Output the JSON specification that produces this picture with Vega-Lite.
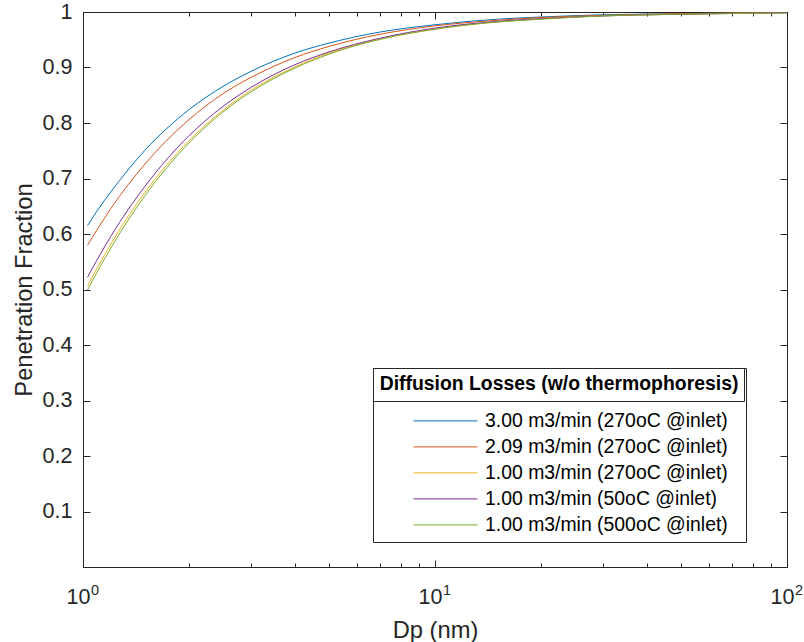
{
  "$schema": "https://vega.github.io/schema/vega-lite/v6.json",
  "width": 704,
  "height": 555,
  "autosize": {"type": "none"},
  "padding": {"left": 83, "top": 12, "right": 17, "bottom": 75},
  "background": "white",
  "config": {
    "font": "Liberation Sans",
    "view": {"stroke": "#262626", "strokeWidth": 1},
    "axis": {
      "domainColor": "#262626",
      "tickColor": "#262626",
      "labelColor": "#262626",
      "titleColor": "#262626",
      "labelFont": "Liberation Sans",
      "titleFont": "Liberation Sans",
      "labelFontSize": 21.5,
      "titleFontSize": 23.7,
      "titleFontWeight": "normal",
      "grid": false,
      "labelOverlap": false,
      "labelFlush": false,
      "labelBound": false
    }
  },
  "data": {
    "values": [
      {"series": "3.00 m3/min (270oC @inlet)", "dp": 1.03, "p": 0.615},
      {"series": "3.00 m3/min (270oC @inlet)", "dp": 1.1, "p": 0.643},
      {"series": "3.00 m3/min (270oC @inlet)", "dp": 1.2, "p": 0.676},
      {"series": "3.00 m3/min (270oC @inlet)", "dp": 1.5, "p": 0.751},
      {"series": "3.00 m3/min (270oC @inlet)", "dp": 2, "p": 0.824},
      {"series": "3.00 m3/min (270oC @inlet)", "dp": 2.5, "p": 0.866},
      {"series": "3.00 m3/min (270oC @inlet)", "dp": 3, "p": 0.893},
      {"series": "3.00 m3/min (270oC @inlet)", "dp": 4, "p": 0.926},
      {"series": "3.00 m3/min (270oC @inlet)", "dp": 5, "p": 0.944},
      {"series": "3.00 m3/min (270oC @inlet)", "dp": 7, "p": 0.964},
      {"series": "3.00 m3/min (270oC @inlet)", "dp": 10, "p": 0.977},
      {"series": "3.00 m3/min (270oC @inlet)", "dp": 15, "p": 0.987},
      {"series": "3.00 m3/min (270oC @inlet)", "dp": 20, "p": 0.991},
      {"series": "3.00 m3/min (270oC @inlet)", "dp": 30, "p": 0.995},
      {"series": "3.00 m3/min (270oC @inlet)", "dp": 50, "p": 0.997},
      {"series": "3.00 m3/min (270oC @inlet)", "dp": 100, "p": 0.999},

      {"series": "2.09 m3/min (270oC @inlet)", "dp": 1.03, "p": 0.580},
      {"series": "2.09 m3/min (270oC @inlet)", "dp": 1.1, "p": 0.609},
      {"series": "2.09 m3/min (270oC @inlet)", "dp": 1.2, "p": 0.646},
      {"series": "2.09 m3/min (270oC @inlet)", "dp": 1.5, "p": 0.726},
      {"series": "2.09 m3/min (270oC @inlet)", "dp": 2, "p": 0.806},
      {"series": "2.09 m3/min (270oC @inlet)", "dp": 2.5, "p": 0.853},
      {"series": "2.09 m3/min (270oC @inlet)", "dp": 3, "p": 0.882},
      {"series": "2.09 m3/min (270oC @inlet)", "dp": 4, "p": 0.918},
      {"series": "2.09 m3/min (270oC @inlet)", "dp": 5, "p": 0.938},
      {"series": "2.09 m3/min (270oC @inlet)", "dp": 7, "p": 0.960},
      {"series": "2.09 m3/min (270oC @inlet)", "dp": 10, "p": 0.975},
      {"series": "2.09 m3/min (270oC @inlet)", "dp": 15, "p": 0.985},
      {"series": "2.09 m3/min (270oC @inlet)", "dp": 20, "p": 0.990},
      {"series": "2.09 m3/min (270oC @inlet)", "dp": 30, "p": 0.994},
      {"series": "2.09 m3/min (270oC @inlet)", "dp": 50, "p": 0.997},
      {"series": "2.09 m3/min (270oC @inlet)", "dp": 100, "p": 0.999},

      {"series": "1.00 m3/min (270oC @inlet)", "dp": 1.03, "p": 0.506},
      {"series": "1.00 m3/min (270oC @inlet)", "dp": 1.1, "p": 0.540},
      {"series": "1.00 m3/min (270oC @inlet)", "dp": 1.2, "p": 0.582},
      {"series": "1.00 m3/min (270oC @inlet)", "dp": 1.5, "p": 0.675},
      {"series": "1.00 m3/min (270oC @inlet)", "dp": 2, "p": 0.768},
      {"series": "1.00 m3/min (270oC @inlet)", "dp": 2.5, "p": 0.823},
      {"series": "1.00 m3/min (270oC @inlet)", "dp": 3, "p": 0.859},
      {"series": "1.00 m3/min (270oC @inlet)", "dp": 4, "p": 0.901},
      {"series": "1.00 m3/min (270oC @inlet)", "dp": 5, "p": 0.926},
      {"series": "1.00 m3/min (270oC @inlet)", "dp": 7, "p": 0.951},
      {"series": "1.00 m3/min (270oC @inlet)", "dp": 10, "p": 0.969},
      {"series": "1.00 m3/min (270oC @inlet)", "dp": 15, "p": 0.982},
      {"series": "1.00 m3/min (270oC @inlet)", "dp": 20, "p": 0.988},
      {"series": "1.00 m3/min (270oC @inlet)", "dp": 30, "p": 0.993},
      {"series": "1.00 m3/min (270oC @inlet)", "dp": 50, "p": 0.996},
      {"series": "1.00 m3/min (270oC @inlet)", "dp": 100, "p": 0.999},

      {"series": "1.00 m3/min (50oC @inlet)", "dp": 1.03, "p": 0.522},
      {"series": "1.00 m3/min (50oC @inlet)", "dp": 1.1, "p": 0.555},
      {"series": "1.00 m3/min (50oC @inlet)", "dp": 1.2, "p": 0.596},
      {"series": "1.00 m3/min (50oC @inlet)", "dp": 1.5, "p": 0.686},
      {"series": "1.00 m3/min (50oC @inlet)", "dp": 2, "p": 0.777},
      {"series": "1.00 m3/min (50oC @inlet)", "dp": 2.5, "p": 0.830},
      {"series": "1.00 m3/min (50oC @inlet)", "dp": 3, "p": 0.864},
      {"series": "1.00 m3/min (50oC @inlet)", "dp": 4, "p": 0.905},
      {"series": "1.00 m3/min (50oC @inlet)", "dp": 5, "p": 0.928},
      {"series": "1.00 m3/min (50oC @inlet)", "dp": 7, "p": 0.953},
      {"series": "1.00 m3/min (50oC @inlet)", "dp": 10, "p": 0.971},
      {"series": "1.00 m3/min (50oC @inlet)", "dp": 15, "p": 0.983},
      {"series": "1.00 m3/min (50oC @inlet)", "dp": 20, "p": 0.988},
      {"series": "1.00 m3/min (50oC @inlet)", "dp": 30, "p": 0.993},
      {"series": "1.00 m3/min (50oC @inlet)", "dp": 50, "p": 0.996},
      {"series": "1.00 m3/min (50oC @inlet)", "dp": 100, "p": 0.999},

      {"series": "1.00 m3/min (500oC @inlet)", "dp": 1.03, "p": 0.499},
      {"series": "1.00 m3/min (500oC @inlet)", "dp": 1.1, "p": 0.533},
      {"series": "1.00 m3/min (500oC @inlet)", "dp": 1.2, "p": 0.575},
      {"series": "1.00 m3/min (500oC @inlet)", "dp": 1.5, "p": 0.669},
      {"series": "1.00 m3/min (500oC @inlet)", "dp": 2, "p": 0.764},
      {"series": "1.00 m3/min (500oC @inlet)", "dp": 2.5, "p": 0.820},
      {"series": "1.00 m3/min (500oC @inlet)", "dp": 3, "p": 0.856},
      {"series": "1.00 m3/min (500oC @inlet)", "dp": 4, "p": 0.899},
      {"series": "1.00 m3/min (500oC @inlet)", "dp": 5, "p": 0.924},
      {"series": "1.00 m3/min (500oC @inlet)", "dp": 7, "p": 0.951},
      {"series": "1.00 m3/min (500oC @inlet)", "dp": 10, "p": 0.969},
      {"series": "1.00 m3/min (500oC @inlet)", "dp": 15, "p": 0.982},
      {"series": "1.00 m3/min (500oC @inlet)", "dp": 20, "p": 0.987},
      {"series": "1.00 m3/min (500oC @inlet)", "dp": 30, "p": 0.993},
      {"series": "1.00 m3/min (500oC @inlet)", "dp": 50, "p": 0.996},
      {"series": "1.00 m3/min (500oC @inlet)", "dp": 100, "p": 0.998}
    ]
  },
  "encoding": {
    "x": {
      "field": "dp",
      "type": "quantitative",
      "scale": {"type": "log", "domain": [1, 100], "nice": false}
    },
    "y": {
      "field": "p",
      "type": "quantitative",
      "scale": {"domain": [0, 1], "nice": false, "zero": false}
    }
  },
  "layer": [
    {
      "mark": {"type": "line", "strokeWidth": 1, "interpolate": "monotone", "clip": true},
      "encoding": {
        "x": {
          "field": "dp",
          "type": "quantitative",
          "title": "Dp (nm)",
          "axis": {
            "orient": "bottom",
            "values": [1, 2, 3, 4, 5, 6, 7, 8, 9, 10, 20, 30, 40, 50, 60, 70, 80, 90, 100],
            "labelExpr": "datum.value == 1 || datum.value == 10 || datum.value == 100 ? '10' : ''",
            "labelOffset": -5,
            "tickSize": {"condition": {"test": "datum.value == 1 || datum.value == 10 || datum.value == 100", "value": -7}, "value": -4},
            "labelPadding": 26,
            "titlePadding": 8
          }
        },
        "y": {
          "field": "p",
          "type": "quantitative",
          "title": "Penetration Fraction",
          "axis": {
            "orient": "left",
            "values": [0.1, 0.2, 0.3, 0.4, 0.5, 0.6, 0.7, 0.8, 0.9, 1],
            "format": ".1~f",
            "tickSize": -7,
            "labelPadding": 18,
            "titlePadding": 6
          }
        },
        "color": {
          "field": "series",
          "type": "nominal",
          "sort": null,
          "scale": {
            "domain": [
              "3.00 m3/min (270oC @inlet)",
              "2.09 m3/min (270oC @inlet)",
              "1.00 m3/min (270oC @inlet)",
              "1.00 m3/min (50oC @inlet)",
              "1.00 m3/min (500oC @inlet)"
            ],
            "range": ["#0072BD", "#D95319", "#EDB120", "#7E2F8E", "#77AC30"]
          },
          "legend": {
            "title": "Diffusion Losses (w/o thermophoresis)",
            "titleFont": "Liberation Sans",
            "titleFontSize": 19.4,
            "titleFontWeight": "bold",
            "titleColor": "#000000",
            "titleAnchor": "middle",
            "titleLimit": 500,
            "titlePadding": 16,
            "orient": "none",
            "legendX": 290,
            "legendY": 356,
            "direction": "vertical",
            "strokeColor": "#262626",
            "fillColor": "white",
            "padding": 7,
            "labelFont": "Liberation Sans",
            "labelFontSize": 19.4,
            "labelColor": "#000000",
            "labelOffset": 29,
            "labelLimit": 400,
            "symbolType": "M-3.2,0H3.2",
            "symbolSize": 400,
            "symbolStrokeWidth": 1,
            "symbolOffset": 45,
            "rowPadding": 6
          }
        }
      }
    },
    {
      "mark": {"type": "line", "opacity": 0},
      "encoding": {
        "x": {
          "field": "dp",
          "type": "quantitative",
          "axis": {
            "orient": "top",
            "title": null,
            "values": [1, 2, 3, 4, 5, 6, 7, 8, 9, 10, 20, 30, 40, 50, 60, 70, 80, 90, 100],
            "labelExpr": "datum.value == 1 ? '0' : datum.value == 10 ? '1' : datum.value == 100 ? '2' : ''",
            "labelFontSize": 14.5,
            "labelBaseline": "alphabetic",
            "labelPadding": -575,
            "labelOffset": 11.5,
            "tickSize": {"condition": {"test": "datum.value == 1 || datum.value == 10 || datum.value == 100", "value": -7}, "value": -4}
          }
        },
        "y": {
          "field": "p",
          "type": "quantitative",
          "axis": {
            "orient": "right",
            "title": null,
            "labels": false,
            "values": [0.1, 0.2, 0.3, 0.4, 0.5, 0.6, 0.7, 0.8, 0.9, 1],
            "tickSize": -7
          }
        },
        "stroke": {
          "field": "p",
          "type": "quantitative",
          "legend": {
            "title": null,
            "orient": "none",
            "legendX": 290,
            "legendY": 356,
            "direction": "horizontal",
            "strokeColor": "#262626",
            "fillColor": "transparent",
            "padding": 7,
            "gradientLength": 357,
            "gradientThickness": 18,
            "gradientOpacity": 0,
            "gradientStrokeWidth": 0,
            "labelExpr": "''",
            "labelFontSize": 1,
            "labelOffset": 0
          }
        }
      }
    }
  ],
  "resolve": {"axis": {"x": "independent", "y": "independent"}}
}
